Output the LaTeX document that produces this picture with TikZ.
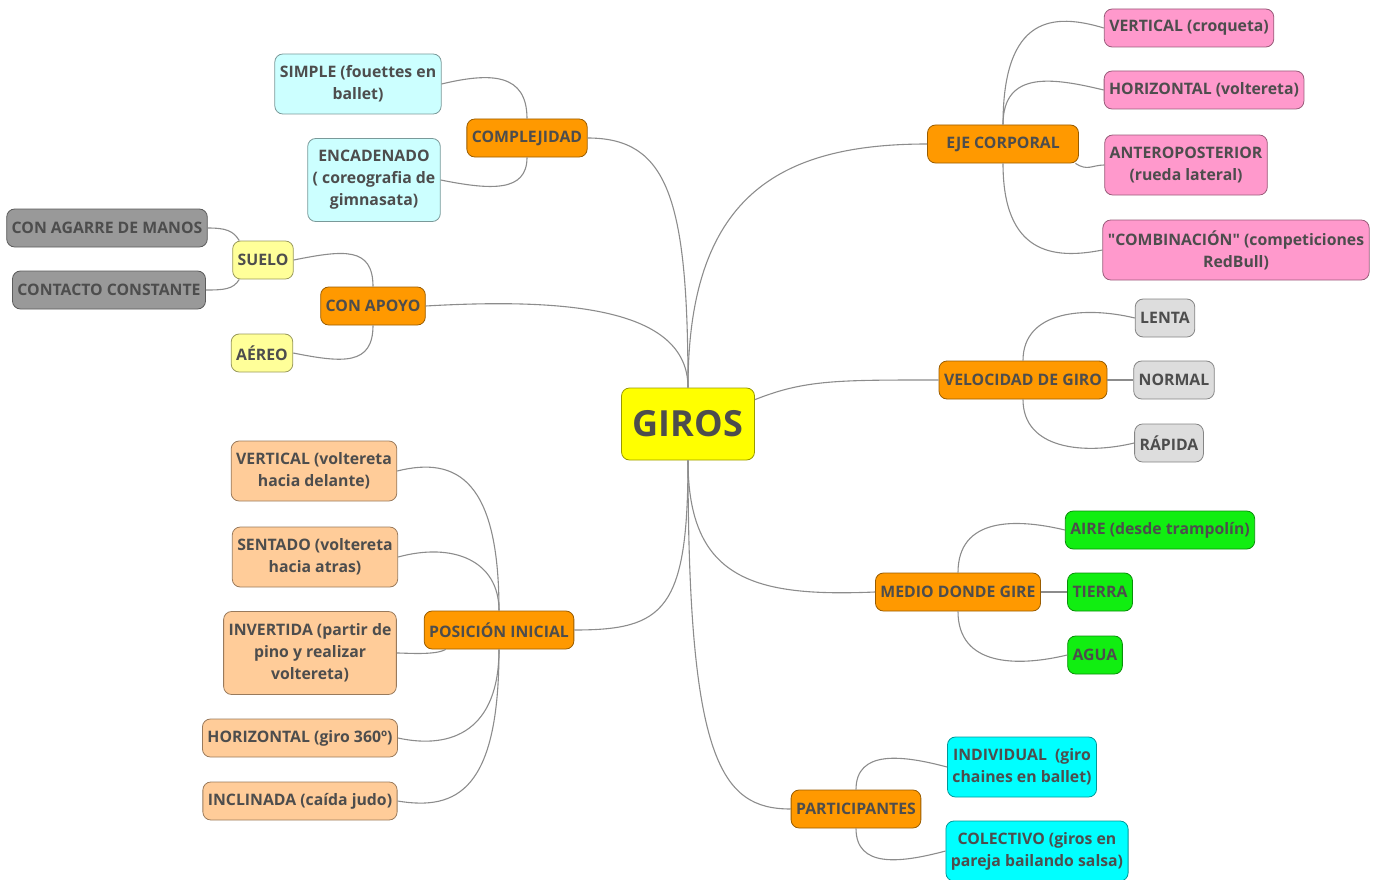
\documentclass[tikz,border=0pt]{standalone}
\usepackage{fontspec}
\setmainfont{Open Sans}[Ligatures=TeXOff]
\usepackage{xcolor}
\usepackage{tikz}

\definecolor{txt}{HTML}{4D4D4D}
\definecolor{linkgray}{HTML}{8C8C8C}
\definecolor{mainyellow}{HTML}{FFFF00}
\definecolor{branchorange}{HTML}{FF9900}
\definecolor{palecyan}{HTML}{CCFFFF}
\definecolor{paleyellow}{HTML}{FFFF99}
\definecolor{midgray}{HTML}{999999}
\definecolor{rosa}{HTML}{FF99CC}
\definecolor{lightgrey}{HTML}{DDDDDD}
\definecolor{brightgreen}{HTML}{11EE11}
\definecolor{aqua}{HTML}{00FFFF}
\definecolor{peach}{HTML}{FFCC99}

\begin{document}
\begin{tikzpicture}[
    x=1pt, y=-1pt,
    box/.style={rectangle, rounded corners=8pt, draw=#1!60!black, fill=#1, line width=0.8pt, text=txt, font=\bfseries\fontsize{15.8}{22}\selectfont, align=center, inner xsep=5pt, minimum height=38pt},
    lines2/.style={minimum height=60pt},
    lines3/.style={minimum height=83pt},
    link/.style={linkgray, line width=1.1pt}
]
\useasboundingbox (0,0) rectangle (1383,880);

% centre and main branches
\node[box=mainyellow, font=\bfseries\fontsize{36}{40}\selectfont, minimum width=133pt, minimum height=72pt] (giros) at (688,424) {GIROS};
\node[box=branchorange] (cmp) at (527,138) {COMPLEJIDAD};
\node[box=branchorange] (apo) at (373,306) {CON APOYO};
\node[box=branchorange, minimum width=151pt] (eje) at (1003,144) {EJE CORPORAL};
\node[box=branchorange] (vel) at (1023,380) {VELOCIDAD DE GIRO};
\node[box=branchorange] (med) at (958,592) {MEDIO DONDE GIRE};
\node[box=branchorange] (par) at (856,809) {PARTICIPANTES};
\node[box=branchorange] (pos) at (499,630) {POSICIÓN INICIAL};

% complejidad
\node[box=palecyan, lines2] (simple) at (358,84) {SIMPLE (fouettes en\\ballet)};
\node[box=palecyan, lines3] (encad) at (374,180) {ENCADENADO\\( coreografia de\\gimnasata)};

% con apoyo
\node[box=paleyellow] (suelo) at (263,260) {SUELO};
\node[box=paleyellow] (aereo) at (262,353) {AÉREO};
\node[box=midgray] (agarre) at (107,228) {CON AGARRE DE MANOS};
\node[box=midgray] (contacto) at (109,290) {CONTACTO CONSTANTE};

% eje corporal
\node[box=rosa] (ejvert) at (1189,28) {VERTICAL (croqueta)};
\node[box=rosa] (ejhori) at (1204,90) {HORIZONTAL (voltereta)};
\node[box=rosa, lines2] (ejante) at (1186,165) {ANTEROPOSTERIOR\\(rueda lateral)};
\node[box=rosa, lines2] (ejcomb) at (1236,250) {"COMBINACIÓN" (competiciones\\RedBull)};

% velocidad
\node[box=lightgrey] (lenta) at (1165,318) {LENTA};
\node[box=lightgrey] (normal) at (1174,380) {NORMAL};
\node[box=lightgrey] (rapida) at (1169,443) {RÁPIDA};

% medio
\node[box=brightgreen] (aire) at (1160,530) {AIRE (desde trampolín)};
\node[box=brightgreen] (tierra) at (1100,592) {TIERRA};
\node[box=brightgreen] (agua) at (1095,655) {AGUA};

% participantes
\node[box=aqua, lines2] (indiv) at (1022,767) {INDIVIDUAL\ \ (giro\\chaines en ballet)};
\node[box=aqua, lines2] (colec) at (1037,851) {COLECTIVO (giros en\\pareja bailando salsa)};

% posicion inicial
\node[box=peach, lines2] (pvert) at (314,471) {VERTICAL (voltereta\\hacia delante)};
\node[box=peach, lines2] (psent) at (315,557) {SENTADO (voltereta\\hacia atras)};
\node[box=peach, lines3] (pinv) at (310,653) {INVERTIDA (partir de\\pino y realizar\\voltereta)};
\node[box=peach] (phori) at (300,738) {HORIZONTAL (giro 360º)};
\node[box=peach] (pincl) at (300,801) {INCLINADA (caída judo)};

% links from the centre
\draw[link] (giros.north) .. controls +(0,-190) and +(80,0) .. (cmp.east);
\draw[link] (giros.north) .. controls +(0,-80) and +(140,-8) .. (apo.east);
\draw[link] (giros.north) .. controls +(0,-190) and +(-150,0) .. (eje.west);
\draw[link] (giros.20) .. controls +(50,-20) and +(-100,0) .. (vel.west);
\draw[link] (giros.south) .. controls +(0,150) and +(90,0) .. (pos.east);
\draw[link] (giros.south) .. controls +(0,120) and +(-120,5) .. (med.west);
\draw[link] (giros.south) .. controls +(0,300) and +(-70,0) .. (par.west);

% links to the leaves
\draw[link] (cmp.north) .. controls +(0,-45) and +(50,-12) .. (simple.east);
\draw[link] (cmp.south) .. controls +(0,35) and +(50,10) .. (encad.east);
\draw[link] (apo.north) .. controls +(0,-40) and +(50,-10) .. (suelo.east);
\draw[link] (apo.south) .. controls +(0,40) and +(50,10) .. (aereo.east);
\draw[link] ([xshift=7pt]suelo.north west) .. controls +(-6,-10) and +(18,0) .. (agarre.east);
\draw[link] ([xshift=7pt]suelo.south west) .. controls +(-6,10) and +(18,0) .. (contacto.east);
\draw[link] (eje.north) .. controls +(0,-110) and +(-50,-15) .. (ejvert.west);
\draw[link] (eje.north) .. controls +(0,-55) and +(-50,-12) .. (ejhori.west);
\draw[link] (eje.-15) .. controls +(12,8) and +(-12,0) .. (ejante.west);
\draw[link] (eje.south) .. controls +(0,90) and +(-50,10) .. (ejcomb.west);
\draw[link] (vel.north) .. controls +(0,-50) and +(-50,-12) .. (lenta.west);
\draw[link] (vel.east) -- (normal.west);
\draw[link] (vel.south) .. controls +(0,50) and +(-50,12) .. (rapida.west);
\draw[link] (med.north) .. controls +(0,-55) and +(-50,-12) .. (aire.west);
\draw[link] (med.east) -- (tierra.west);
\draw[link] (med.south) .. controls +(0,55) and +(-50,12) .. (agua.west);
\draw[link] (par.north) .. controls +(0,-40) and +(-45,-12) .. (indiv.west);
\draw[link] (par.south) .. controls +(0,40) and +(-45,12) .. (colec.west);
\draw[link] (pos.north) .. controls +(0,-130) and +(60,-15) .. (pvert.east);
\draw[link] (pos.north) .. controls +(0,-50) and +(55,-15) .. (psent.east);
\draw[link] (pos.200) .. controls +(-10,6) and +(10,0) .. (pinv.east);
\draw[link] (pos.south) .. controls +(0,80) and +(55,12) .. (phori.east);
\draw[link] (pos.south) .. controls +(0,140) and +(60,10) .. (pincl.east);
\end{tikzpicture}
\end{document}
